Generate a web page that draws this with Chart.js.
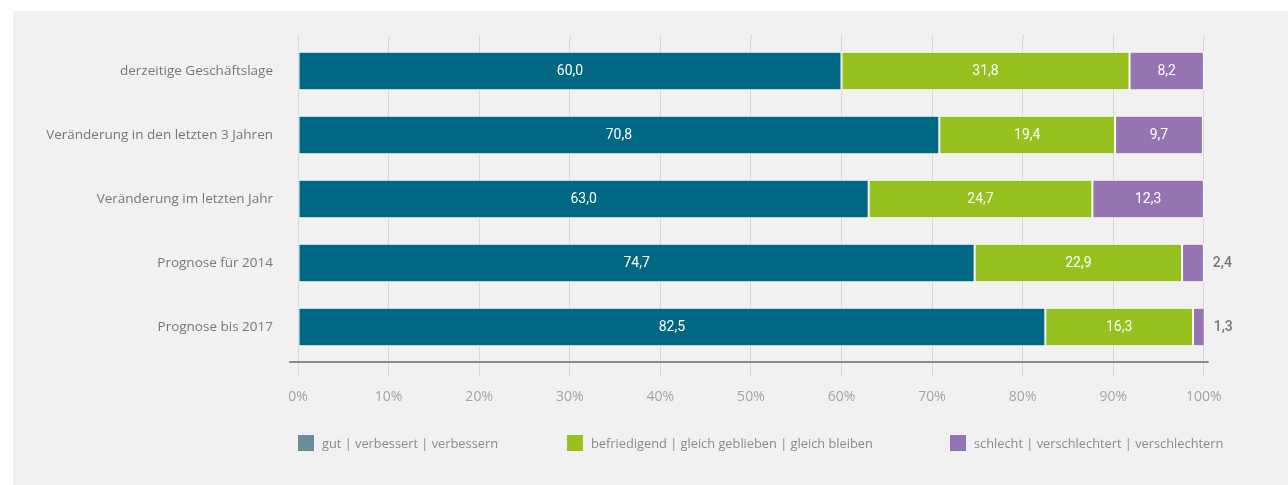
<!DOCTYPE html>
<html>
<head>
<meta charset="utf-8">
<script src="https://cdn.jsdelivr.net/npm/chart.js@4.4.1/dist/chart.umd.min.js"></script>
<style>
html, body { margin: 0; padding: 0; background: #ffffff; width: 1288px; height: 485px; overflow: hidden; }
#panel { position: absolute; left: 13px; top: 11px; right: 0; bottom: 0; background: #f1f1f1; }
#wrap { position: absolute; left: 0; top: 0; width: 1288px; height: 485px; }
#legend { position: absolute; left: 0; top: 435px; width: 1288px; height: 16px; font-family: 'Open Sans', sans-serif; font-size: 12.8px; color: #8a8a8a; }
.li { position: absolute; top: 0; height: 16px; display: flex; align-items: center; white-space: nowrap; }
.li .box { display: inline-block; width: 16px; height: 16px; margin-right: 8px; }
</style>
</head>
<body>
<div id="panel"></div>
<div id="wrap"><canvas id="c" width="1288" height="485"></canvas></div>
<div id="legend"></div>
<script>
// ---- data ----
const categories = [
  'derzeitige Geschäftslage',
  'Veränderung in den letzten 3 Jahren',
  'Veränderung im letzten Jahr',
  'Prognose für 2014',
  'Prognose bis 2017'
];
const seriesNames = [
  'gut | verbessert | verbessern',
  'befriedigend | gleich geblieben | gleich bleiben',
  'schlecht | verschlechtert | verschlechtern'
];
const goodValues = [60.0, 70.8, 63.0, 74.7, 82.5];
const neutralValues = [31.8, 19.4, 24.7, 22.9, 16.3];
const badValues = [8.2, 9.7, 12.3, 2.4, 1.3];
const xTickValues = [0, 10, 20, 30, 40, 50, 60, 70, 80, 90, 100];

// ---- styles ----
const barColors = ['#006882', '#96c11f', '#9673b1'];
const legendColors = ['#6a8d99', '#97c11f', '#9673b2'];
const legendLeft = [298, 567, 950];
const gridColor = '#d6d6d6';

const fmt = v => v.toFixed(1).replace('.', ',');

const valueLabels = {
  id: 'valueLabels',
  afterDatasetsDraw(chart) {
    const ctx = chart.ctx;
    const xs = chart.scales.x;
    chart.data.datasets.forEach((ds, di) => {
      const meta = chart.getDatasetMeta(di);
      meta.data.forEach((bar, i) => {
        const v = ds.data[i];
        const txt = fmt(v);
        const w = Math.abs(bar.x - bar.base);
        ctx.save();
        ctx.textBaseline = 'middle';
        if (w < 30) {
          ctx.font = '500 14px Roboto';
          ctx.fillStyle = '#777777';
          ctx.textAlign = 'left';
          ctx.fillText(txt, Math.max(bar.x, xs.getPixelForValue(100)) + 9, bar.y);
        } else {
          ctx.font = '400 14px Roboto';
          ctx.fillStyle = '#ffffff';
          ctx.textAlign = 'center';
          ctx.fillText(txt, (bar.x + bar.base) / 2, bar.y);
        }
        ctx.restore();
      });
    });
  }
};

const axisDecor = {
  id: 'axisDecor',
  beforeDatasetsDraw(chart) {
    const ctx = chart.ctx;
    const xs = chart.scales.x;
    const top = chart.chartArea.top;
    ctx.save();
    ctx.strokeStyle = gridColor;
    ctx.lineWidth = 1;
    xs.ticks.forEach(t => {
      const px = Math.round(xs.getPixelForValue(t.value)) + 0.5;
      ctx.beginPath();
      ctx.moveTo(px, top - 4);
      ctx.lineTo(px, top);
      ctx.stroke();
    });
    ctx.restore();
  },
  afterDatasetsDraw(chart) {
    const ctx = chart.ctx;
    const xs = chart.scales.x;
    const y = chart.chartArea.bottom + 3;
    ctx.save();
    ctx.strokeStyle = '#8c8c8c';
    ctx.lineWidth = 2;
    ctx.beginPath();
    ctx.moveTo(xs.getPixelForValue(0) - 9, y);
    ctx.lineTo(xs.getPixelForValue(100) + 5, y);
    ctx.stroke();
    ctx.restore();
  }
};

const htmlLegend = {
  id: 'htmlLegend',
  afterUpdate(chart) {
    const el = document.getElementById('legend');
    el.innerHTML = '';
    chart.data.datasets.forEach((ds, i) => {
      const item = document.createElement('div');
      item.className = 'li';
      item.style.left = legendLeft[i] + 'px';
      const box = document.createElement('span');
      box.className = 'box';
      box.style.background = legendColors[i];
      const txt = document.createElement('span');
      txt.textContent = ds.label;
      item.appendChild(box);
      item.appendChild(txt);
      el.appendChild(item);
    });
  }
};

const seriesValues = [goodValues, neutralValues, badValues];

new Chart(document.getElementById('c'), {
  type: 'bar',
  data: {
    labels: categories,
    datasets: seriesNames.map((name, i) => ({
      label: name,
      data: seriesValues[i],
      backgroundColor: barColors[i],
      borderColor: '#ffffff',
      borderWidth: 1,
      borderSkipped: false,
      barPercentage: 0.6,
      categoryPercentage: 1.0
    }))
  },
  options: {
    indexAxis: 'y',
    responsive: false,
    devicePixelRatio: 1,
    animation: false,
    layout: { padding: { left: 0, top: 39, right: 57, bottom: 66 } },
    plugins: {
      legend: { display: false },
      tooltip: { enabled: false },
      title: { display: false }
    },
    scales: {
      x: {
        stacked: true,
        min: 0,
        max: 103,
        afterBuildTicks(scale) { scale.ticks = xTickValues.map(v => ({ value: v })); },
        afterFit(scale) { scale.height = 60; },
        grid: { color: gridColor, lineWidth: 1, tickLength: 17, drawTicks: true, tickColor: gridColor },
        border: { display: false },
        ticks: {
          padding: 13,
          color: '#a3a3a3',
          font: { family: 'Open Sans', size: 14 },
          callback: v => v + '%',
          maxRotation: 0,
          autoSkip: false
        }
      },
      y: {
        stacked: true,
        afterFit(scale) { scale.width = 298; },
        grid: { display: false, drawTicks: false },
        border: { display: false },
        ticks: {
          padding: 25,
          color: '#777777',
          font: { family: 'Open Sans', size: 13.5 }
        }
      }
    }
  },
  plugins: [valueLabels, axisDecor, htmlLegend]
});
</script>
</body>
</html>
